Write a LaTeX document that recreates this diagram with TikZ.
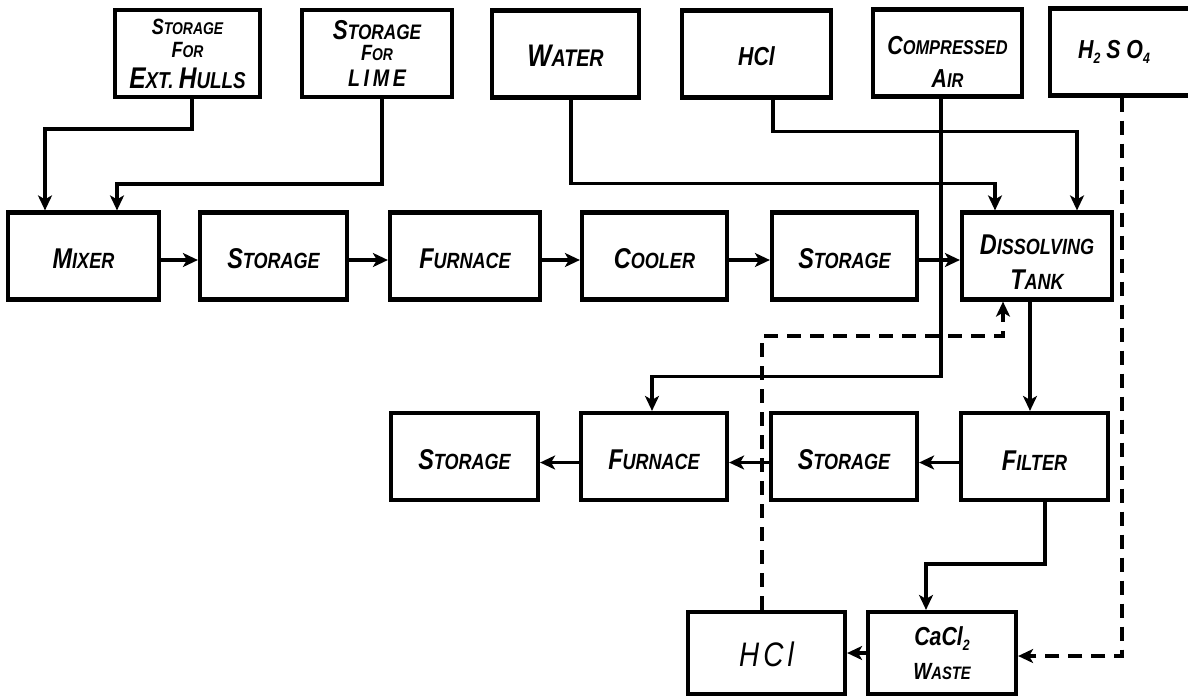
\documentclass[tikz,border=0pt]{standalone}
\usepackage{fontspec}
\usepackage{graphicx}
\newfontfamily\hand{Liberation Sans}[FakeStretch=0.82]
\usetikzlibrary{arrows.meta,calc}
\newcommand\bg[1]{\scalebox{1.3}{#1}}
\newcommand\fs[1]{\fontsize{#1}{#1}\selectfont}
\newcommand\subx[1]{\raisebox{-5pt}{\fs{15}#1}}
\tikzset{
  box/.style={draw, line width=4.2pt, inner sep=0pt, align=center,
    font=\hand\bfseries\itshape, minimum height=87pt},
  tip/.tip={Stealth[length=15pt,width=14pt,inset=4pt]},
  conn/.style={line width=3.4pt, -tip},
  dashline/.style={line width=3.4pt, dash pattern=on 14pt off 9pt}
}
\begin{document}
\begin{tikzpicture}[x=1pt,y=-1pt]
\useasboundingbox (0,0) rectangle (1188,697);
\fill[white] (0,0) rectangle (1188,697);
\clip (0,0) rectangle (1188,697);

% top row
\node[box, minimum width=145pt] (hulls) at (187.5,53.5)
  {\fs{17}\bg{S}TORAGE\\[7pt] \fs{17}\bg{F}OR\\[9pt] \fs{23}\bg{E}XT. \bg{H}ULLS};
\node[box, minimum width=150pt] (lime) at (377,53.5)
  {\fs{21}\bg{S}TORAGE\\[5pt] \fs{17}\bg{F}OR\\[8pt] \fs{24}{\addfontfeature{LetterSpace=15}LIME}};
\node[box, minimum width=147pt] (water) at (565.5,54) {\fs{24}\rule{0pt}{24pt}\bg{W}ATER};
\node[box, minimum width=149pt] (hcla) at (756.5,54) {\fs{26}\rule{0pt}{24pt}HCl};
\node[box, minimum width=149pt] (air) at (947.5,53)
  {\fs{20}\rule{0pt}{36pt}\bg{C}OMPRESSED\\[14pt] \fs{20}\bg{A}IR};
\node[box, minimum width=150pt] (acid) at (1125,52)
  {\fs{26}H\subx{2} S O\subx{4}\hspace*{22pt}};

% middle row
\node[box, minimum width=151pt] (mixer) at (83.5,256) {\fs{22}\rule{0pt}{25pt}\bg{M}IXER};
\node[box, minimum width=147pt] (st1) at (273.5,256) {\fs{22}\rule{0pt}{25pt}\bg{S}TORAGE};
\node[box, minimum width=150pt] (furn1) at (465,256) {\fs{22}\rule{0pt}{25pt}\bg{F}URNACE};
\node[box, minimum width=145pt] (cooler) at (654.5,256) {\fs{22}\rule{0pt}{25pt}\bg{C}OOLER};
\node[box, minimum width=145pt] (st2) at (844.5,256) {\fs{22}\rule{0pt}{25pt}\bg{S}TORAGE};
\node[box, minimum width=150pt] (dt) at (1037,256)
  {\fs{22}\rule{0pt}{32pt}\bg{D}ISSOLVING\\[15pt] \fs{22}\bg{T}ANK};

% lower row
\node[box, minimum width=147pt] (filter) at (1034.5,456.5) {\fs{22}\rule{0pt}{27pt}\bg{F}ILTER};
\node[box, minimum width=146pt] (st3) at (844,456.5) {\fs{22}\rule{0pt}{27pt}\bg{S}TORAGE};
\node[box, minimum width=146pt] (furn2) at (654,456.5) {\fs{22}\rule{0pt}{27pt}\bg{F}URNACE};
\node[box, minimum width=147pt] (st4) at (464.5,456.5) {\fs{22}\rule{0pt}{27pt}\bg{S}TORAGE};

% bottom row
\node[box, minimum width=157pt, minimum height=82pt] (hclb) at (766.5,653)
  {\mdseries\fs{34}\rule{0pt}{28pt}{\addfontfeature{LetterSpace=12}HCl}};
\node[box, minimum width=148pt, minimum height=82pt] (cacl) at (942,653)
  {\fs{26}CaCl\subx{2}\\[12pt] \fs{18}\bg{W}ASTE};

% feeds to mixer
\draw[conn] ([xshift=4.5pt]hulls.south) -- ++(0,30) -| ([xshift=-38.5pt]mixer.north);
\draw[conn] ([xshift=5pt]lime.south) -- ++(0,85) -| ([xshift=33.5pt]mixer.north);

% feeds to dissolving tank
\draw[conn] ([xshift=5.5pt]water.south) -- ++(0,84) -| ([xshift=-42pt]dt.north);
\draw[conn] ([xshift=16.5pt]hcla.south) -- ++(0,32) -| ([xshift=40pt]dt.north);

% compressed air to lower furnace
\draw[conn] ([xshift=-6.5pt]air.south) -- ++(0,278) -| ([xshift=-2pt]furn2.north);

% middle row flow
\draw[conn] ([yshift=-4pt]mixer.east) -- ([yshift=-4pt]st1.west);
\draw[conn] ([yshift=-4pt]st1.east) -- ([yshift=-4pt]furn1.west);
\draw[conn] ([yshift=-4pt]furn1.east) -- ([yshift=-4pt]cooler.west);
\draw[conn] ([yshift=-4pt]cooler.east) -- ([yshift=-4pt]st2.west);
\draw[conn] ([yshift=-4pt]st2.east) -- ([yshift=-4pt]dt.west);

% dissolving tank to filter
\draw[conn] ([xshift=-7pt]dt.south) -- ([xshift=-7pt]dt.south |- filter.north);

% lower row flow
\draw[conn] ([yshift=-6pt]filter.west) -- ([yshift=-6pt]st3.east);
\draw[conn] ([yshift=-6pt]st3.west) -- ([yshift=-6pt]furn2.east);
\draw[conn] ([yshift=-6pt]furn2.west) -- ([yshift=-6pt]st4.east);

% filter to waste
\draw[conn] ([xshift=10.5pt]filter.south) -- ++(0,62) -| ([xshift=-16pt]cacl.north);
\draw[conn] (cacl.west) -- (hclb.east);

% dashed recycle lines
\draw[dashline, -tip]
  ([xshift=-4.5pt]hclb.north) -- ++(0,-274) -| ([xshift=-34pt]dt.south);
\draw[dashline, -tip]
  ([xshift=-3pt]acid.south) |- ([yshift=-3pt]cacl.east);
\end{tikzpicture}
\end{document}
